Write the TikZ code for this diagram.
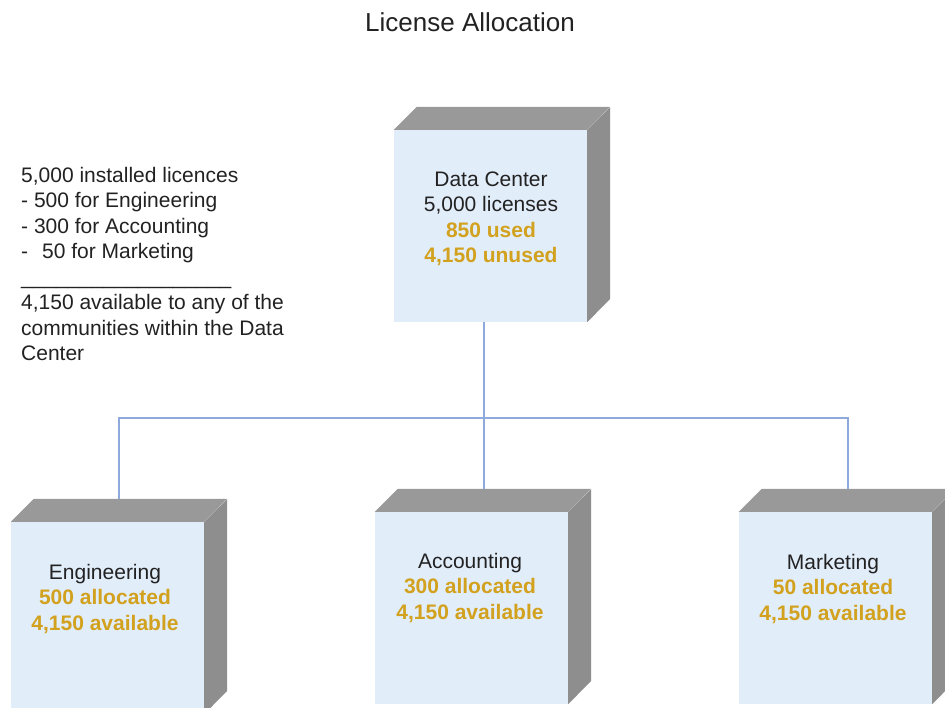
\documentclass[tikz,border=0pt]{standalone}
\usepackage{fontspec}
\setmainfont{Liberation Sans}
\definecolor{faceblue}{HTML}{E2EDFA}
\definecolor{topgray}{HTML}{999999}
\definecolor{sidegray}{HTML}{8E8E8E}
\definecolor{goldtxt}{HTML}{D2A11E}
\definecolor{connblue}{HTML}{8EA9DB}
\definecolor{txtgray}{HTML}{222222}
\newcommand\cubesides[1]{%
  \fill[topgray] (#1.north west) -- ++(23,-23) -- ++(193,0) -- (#1.north east) -- cycle;
  \fill[sidegray] (#1.north east) -- ++(23,-23) -- ++(0,192) -- (#1.south east) -- cycle;}
\newcommand\gold[1]{\textcolor{goldtxt}{\textbf{#1}}}
\begin{document}
\begin{tikzpicture}[x=1pt,y=-1pt,
  front/.style={fill=faceblue, draw=none, minimum width=193pt, minimum height=192pt, inner sep=0pt},
  boxtext/.style={align=center, inner sep=0pt, text=txtgray, font=\fontsize{21}{25.5}\selectfont},
  conn/.style={draw=connblue, line width=1.6pt},
  lefttext/.style={align=left, inner sep=0pt, text=txtgray, font=\fontsize{21}{25.5}\selectfont, anchor=north west}]
\useasboundingbox (0,0) rectangle (945,708);
\fill[white] (0,0) rectangle (945,708);
% title
\node[text=txtgray, font=\fontsize{26}{30}\selectfont] (title) at (470,22) {License Allocation};
% note
\node[lefttext] (note) at (21,167) {5,000 installed licences\\
- 500 for Engineering\\
- 300 for Accounting\\
-\hspace{14pt}50 for Marketing\\
\_\_\_\_\_\_\_\_\_\_\_\_\_\_\_\_\_\_\\
4,150 available to any of the\\
communities within the Data\\
Center};
% boxes
\node[front] (dc) at (490.5,226) {};
\cubesides{dc}
\node[front] (eng) at (107.5,618) {};
\cubesides{eng}
\node[front] (acc) at (471.5,608) {};
\cubesides{acc}
\node[front] (mkt) at (835.5,608) {};
\cubesides{mkt}
% texts
\node[boxtext] (dct) at (491,219) {Data Center\\5,000 licenses\\\gold{850 used}\\\gold{4,150 unused}};
\node[boxtext] (engt) at (105,599) {Engineering\\\gold{500 allocated}\\\gold{4,150 available}};
\node[boxtext] (acct) at (470,588) {Accounting\\\gold{300 allocated}\\\gold{4,150 available}};
\node[boxtext] (mktt) at (833,589) {Marketing\\\gold{50 allocated}\\\gold{4,150 available}};
% connectors
\coordinate (hub) at (484,418);
\coordinate (bl) at (119,418);
\coordinate (br) at (848,418);
\coordinate (engtop) at (119,499);
\coordinate (acctop) at (484,489);
\coordinate (mkttop) at (848,489);
\draw[conn] (dc.south -| hub) -- (hub) -- (acctop);
\draw[conn] (engtop) -- (bl) -- (br) -- (mkttop);
\end{tikzpicture}
\end{document}
